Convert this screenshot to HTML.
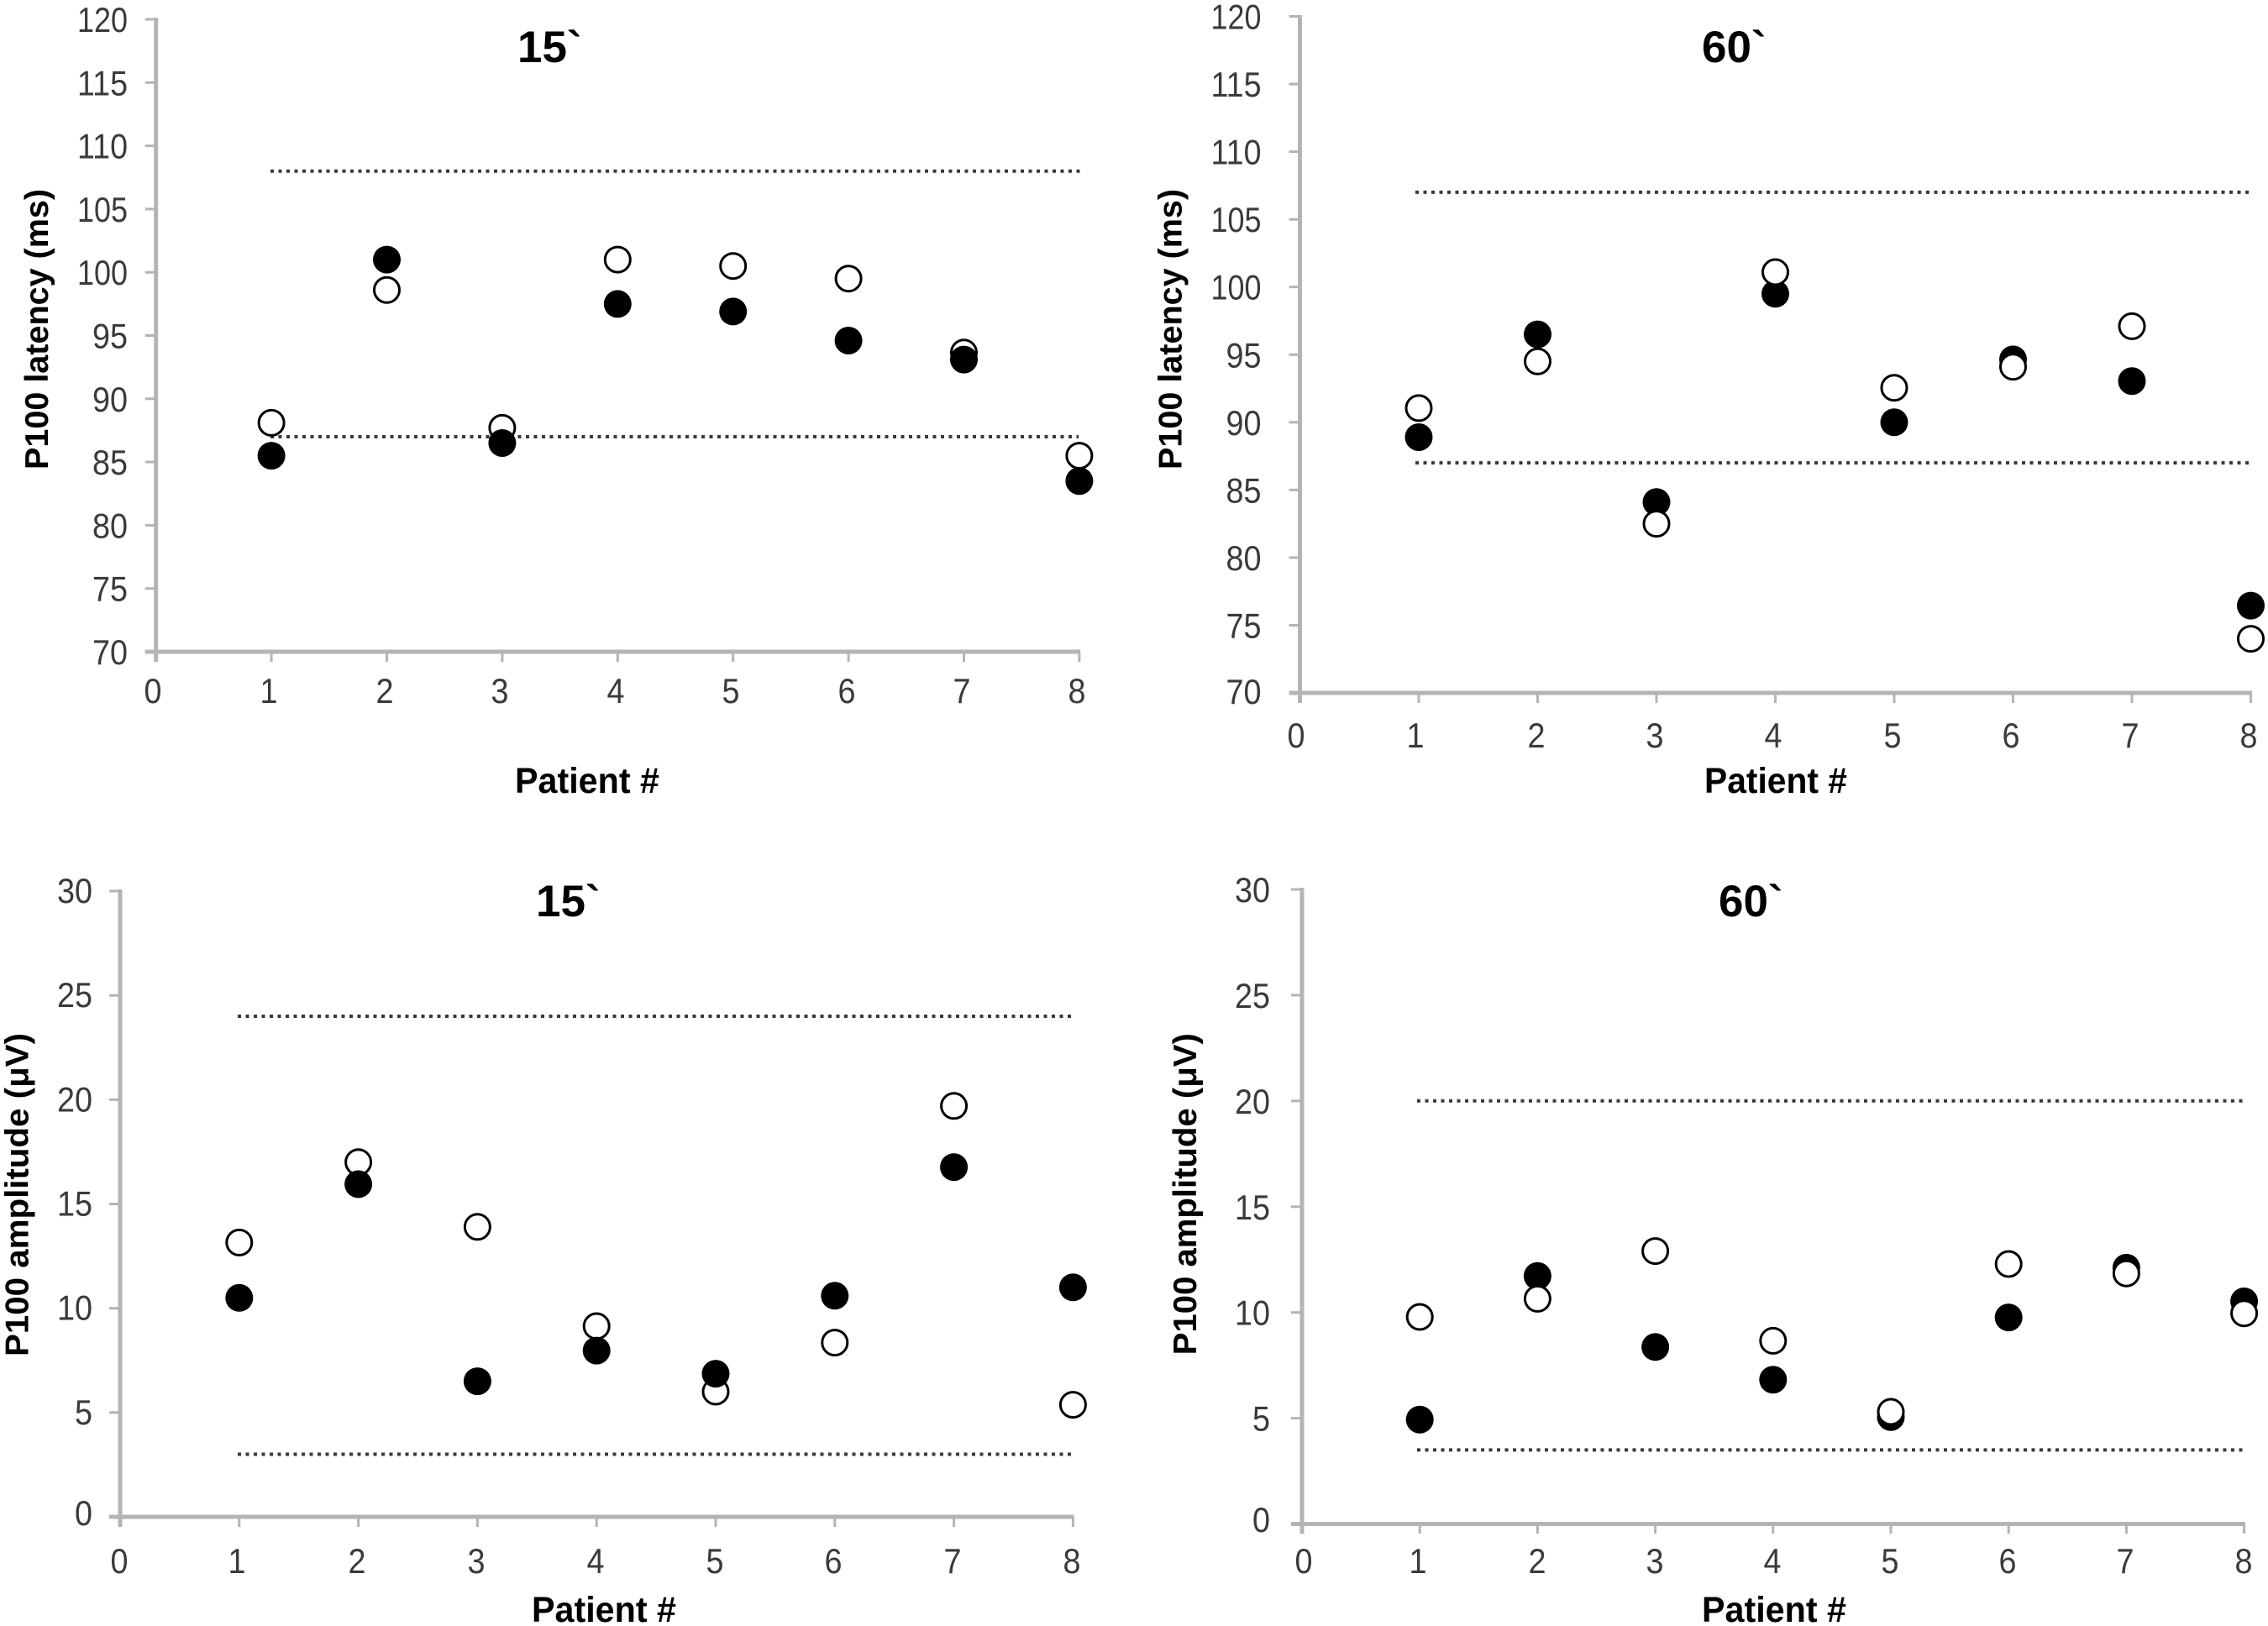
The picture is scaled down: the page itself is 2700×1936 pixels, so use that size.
<!DOCTYPE html>
<html>
<head>
<meta charset="utf-8">
<style>
  html, body { margin:0; padding:0; background:#fff; }
  svg { display:block; }
  .tk { font-family:"Liberation Sans", sans-serif; font-size:42px; fill:#3a3a3a; }
  .ax { font-family:"Liberation Sans", sans-serif; font-size:39px; font-weight:bold; fill:#000; }
  .pt { font-family:"Liberation Sans", sans-serif; font-size:43px; font-weight:bold; fill:#000; }
  .ti { font-family:"Liberation Sans", sans-serif; font-size:53px; font-weight:bold; fill:#000; }
</style>
</head>
<body>
<svg width="2700" height="1936" viewBox="0 0 2700 1936" xmlns="http://www.w3.org/2000/svg">
<rect width="2700" height="1936" fill="#fff"/>

<!-- ================= TOP LEFT ================= -->
<g stroke="#b4b4b4" fill="none">
  <line x1="185.7" y1="21" x2="185.7" y2="788" stroke-width="5"/>
  <line x1="172.7" y1="776" x2="1286" y2="776" stroke-width="5"/>
  <g stroke-width="3">
    <line x1="172.7" y1="23" x2="185.7" y2="23"/>
    <line x1="172.7" y1="98.3" x2="185.7" y2="98.3"/>
    <line x1="172.7" y1="173.6" x2="185.7" y2="173.6"/>
    <line x1="172.7" y1="248.9" x2="185.7" y2="248.9"/>
    <line x1="172.7" y1="324.2" x2="185.7" y2="324.2"/>
    <line x1="172.7" y1="399.5" x2="185.7" y2="399.5"/>
    <line x1="172.7" y1="474.8" x2="185.7" y2="474.8"/>
    <line x1="172.7" y1="550.1" x2="185.7" y2="550.1"/>
    <line x1="172.7" y1="625.4" x2="185.7" y2="625.4"/>
    <line x1="172.7" y1="700.7" x2="185.7" y2="700.7"/>
    <line x1="323.1" y1="776" x2="323.1" y2="788"/>
    <line x1="460.5" y1="776" x2="460.5" y2="788"/>
    <line x1="597.9" y1="776" x2="597.9" y2="788"/>
    <line x1="735.3" y1="776" x2="735.3" y2="788"/>
    <line x1="872.7" y1="776" x2="872.7" y2="788"/>
    <line x1="1010.1" y1="776" x2="1010.1" y2="788"/>
    <line x1="1147.5" y1="776" x2="1147.5" y2="788"/>
    <line x1="1284.9" y1="776" x2="1284.9" y2="788"/>
  </g>
</g>
<g class="tk" text-anchor="end">
  <text x="152" y="38" textLength="60" lengthAdjust="spacingAndGlyphs">120</text>
  <text x="152" y="113.3" textLength="60" lengthAdjust="spacingAndGlyphs">115</text>
  <text x="152" y="188.6" textLength="60" lengthAdjust="spacingAndGlyphs">110</text>
  <text x="152" y="263.9" textLength="60" lengthAdjust="spacingAndGlyphs">105</text>
  <text x="152" y="339.2" textLength="60" lengthAdjust="spacingAndGlyphs">100</text>
  <text x="152" y="414.5" textLength="42" lengthAdjust="spacingAndGlyphs">95</text>
  <text x="152" y="489.8" textLength="42" lengthAdjust="spacingAndGlyphs">90</text>
  <text x="152" y="565.1" textLength="42" lengthAdjust="spacingAndGlyphs">85</text>
  <text x="152" y="640.4" textLength="42" lengthAdjust="spacingAndGlyphs">80</text>
  <text x="152" y="715.7" textLength="42" lengthAdjust="spacingAndGlyphs">75</text>
  <text x="152" y="791" textLength="42" lengthAdjust="spacingAndGlyphs">70</text>
</g>
<g class="tk" text-anchor="middle">
  <text x="182" y="837" textLength="21" lengthAdjust="spacingAndGlyphs">0</text>
  <text x="320" y="837" textLength="21" lengthAdjust="spacingAndGlyphs">1</text>
  <text x="458" y="837" textLength="21" lengthAdjust="spacingAndGlyphs">2</text>
  <text x="595" y="837" textLength="21" lengthAdjust="spacingAndGlyphs">3</text>
  <text x="733" y="837" textLength="21" lengthAdjust="spacingAndGlyphs">4</text>
  <text x="870" y="837" textLength="21" lengthAdjust="spacingAndGlyphs">5</text>
  <text x="1008" y="837" textLength="21" lengthAdjust="spacingAndGlyphs">6</text>
  <text x="1145" y="837" textLength="21" lengthAdjust="spacingAndGlyphs">7</text>
  <text x="1282" y="837" textLength="21" lengthAdjust="spacingAndGlyphs">8</text>
</g>
<g stroke="#3a3a3a" stroke-width="4" stroke-dasharray="4 5.5">
  <line x1="322" y1="203.7" x2="1287" y2="203.7"/>
  <line x1="322" y1="520" x2="1284" y2="520"/>
</g>
<g fill="#fff" stroke="#000" stroke-width="3">
  <circle cx="323.1" cy="503.4" r="15"/>
  <circle cx="460.5" cy="345.3" r="15"/>
  <circle cx="597.9" cy="509.4" r="15"/>
  <circle cx="735.3" cy="309.1" r="15"/>
  <circle cx="872.7" cy="316.7" r="15"/>
  <circle cx="1010.1" cy="331.7" r="15"/>
  <circle cx="1147.5" cy="419.8" r="15"/>
  <circle cx="1284.9" cy="542.6" r="15"/>
</g>
<g fill="#000">
  <circle cx="323.1" cy="542.6" r="16.5"/>
  <circle cx="460.5" cy="309.1" r="16.5"/>
  <circle cx="597.9" cy="527.5" r="16.5"/>
  <circle cx="735.3" cy="361.9" r="16.5"/>
  <circle cx="872.7" cy="370.9" r="16.5"/>
  <circle cx="1010.1" cy="405.5" r="16.5"/>
  <circle cx="1147.5" cy="428.1" r="16.5"/>
  <circle cx="1284.9" cy="572.7" r="16.5"/>
</g>
<text class="ti" x="616" y="74">15`</text>
<text class="ax" transform="translate(57,392) rotate(-90)" text-anchor="middle" textLength="334" lengthAdjust="spacingAndGlyphs">P100 latency (ms)</text>
<text class="pt" x="699" y="944" text-anchor="middle" textLength="172" lengthAdjust="spacingAndGlyphs">Patient #</text>

<!-- ================= TOP RIGHT ================= -->
<g stroke="#b4b4b4" fill="none">
  <line x1="1547.5" y1="18" x2="1547.5" y2="837" stroke-width="5"/>
  <line x1="1534.5" y1="825" x2="1681" y2="825" stroke-width="5"/>
  <line x1="1534.5" y1="825" x2="2681" y2="825" stroke-width="5"/>
  <g stroke-width="3">
    <line x1="1534.5" y1="19.5" x2="1547.5" y2="19.5"/>
    <line x1="1534.5" y1="100.1" x2="1547.5" y2="100.1"/>
    <line x1="1534.5" y1="180.6" x2="1547.5" y2="180.6"/>
    <line x1="1534.5" y1="261.2" x2="1547.5" y2="261.2"/>
    <line x1="1534.5" y1="341.7" x2="1547.5" y2="341.7"/>
    <line x1="1534.5" y1="422.3" x2="1547.5" y2="422.3"/>
    <line x1="1534.5" y1="502.8" x2="1547.5" y2="502.8"/>
    <line x1="1534.5" y1="583.4" x2="1547.5" y2="583.4"/>
    <line x1="1534.5" y1="663.9" x2="1547.5" y2="663.9"/>
    <line x1="1534.5" y1="744.5" x2="1547.5" y2="744.5"/>
    <line x1="1689" y1="825" x2="1689" y2="837"/>
    <line x1="1830.5" y1="825" x2="1830.5" y2="837"/>
    <line x1="1972" y1="825" x2="1972" y2="837"/>
    <line x1="2113.5" y1="825" x2="2113.5" y2="837"/>
    <line x1="2255" y1="825" x2="2255" y2="837"/>
    <line x1="2396.5" y1="825" x2="2396.5" y2="837"/>
    <line x1="2538" y1="825" x2="2538" y2="837"/>
    <line x1="2679.5" y1="825" x2="2679.5" y2="837"/>
  </g>
</g>
<g class="tk" text-anchor="end">
  <text x="1501.5" y="34.5" textLength="60" lengthAdjust="spacingAndGlyphs">120</text>
  <text x="1501.5" y="115.1" textLength="60" lengthAdjust="spacingAndGlyphs">115</text>
  <text x="1501.5" y="195.6" textLength="60" lengthAdjust="spacingAndGlyphs">110</text>
  <text x="1501.5" y="276.2" textLength="60" lengthAdjust="spacingAndGlyphs">105</text>
  <text x="1501.5" y="356.7" textLength="60" lengthAdjust="spacingAndGlyphs">100</text>
  <text x="1501.5" y="437.3" textLength="42" lengthAdjust="spacingAndGlyphs">95</text>
  <text x="1501.5" y="517.8" textLength="42" lengthAdjust="spacingAndGlyphs">90</text>
  <text x="1501.5" y="598.4" textLength="42" lengthAdjust="spacingAndGlyphs">85</text>
  <text x="1501.5" y="678.9" textLength="42" lengthAdjust="spacingAndGlyphs">80</text>
  <text x="1501.5" y="759.5" textLength="42" lengthAdjust="spacingAndGlyphs">75</text>
  <text x="1501.5" y="838" textLength="42" lengthAdjust="spacingAndGlyphs">70</text>
</g>
<g class="tk" text-anchor="middle">
  <text x="1543" y="890" textLength="21" lengthAdjust="spacingAndGlyphs">0</text>
  <text x="1685" y="890" textLength="21" lengthAdjust="spacingAndGlyphs">1</text>
  <text x="1829" y="890" textLength="21" lengthAdjust="spacingAndGlyphs">2</text>
  <text x="1970" y="890" textLength="21" lengthAdjust="spacingAndGlyphs">3</text>
  <text x="2111" y="890" textLength="21" lengthAdjust="spacingAndGlyphs">4</text>
  <text x="2253" y="890" textLength="21" lengthAdjust="spacingAndGlyphs">5</text>
  <text x="2394" y="890" textLength="21" lengthAdjust="spacingAndGlyphs">6</text>
  <text x="2536" y="890" textLength="21" lengthAdjust="spacingAndGlyphs">7</text>
  <text x="2677" y="890" textLength="21" lengthAdjust="spacingAndGlyphs">8</text>
</g>
<g stroke="#3a3a3a" stroke-width="4" stroke-dasharray="4 5.5">
  <line x1="1685" y1="228.9" x2="2680" y2="228.9"/>
  <line x1="1685" y1="551.1" x2="2680" y2="551.1"/>
</g>
<g fill="#000">
  <circle cx="1689" cy="520.5" r="16.5"/>
  <circle cx="1830.5" cy="398.1" r="16.5"/>
  <circle cx="1972" cy="597.8" r="16.5"/>
  <circle cx="2113.5" cy="349.8" r="16.5"/>
  <circle cx="2255" cy="502.8" r="16.5"/>
  <circle cx="2396.5" cy="427.9" r="16.5"/>
  <circle cx="2538" cy="453.7" r="16.5"/>
  <circle cx="2679.5" cy="721.1" r="16.5"/>
</g>
<g fill="#fff" stroke="#000" stroke-width="3">
  <circle cx="1689" cy="485.9" r="15"/>
  <circle cx="1830.5" cy="430.3" r="15"/>
  <circle cx="1972" cy="623.6" r="15"/>
  <circle cx="2113.5" cy="324" r="15"/>
  <circle cx="2255" cy="461.7" r="15"/>
  <circle cx="2396.5" cy="436.7" r="15"/>
  <circle cx="2538" cy="388.4" r="15"/>
  <circle cx="2679.5" cy="760.6" r="15"/>
</g>
<text class="ti" x="2026" y="74">60`</text>
<text class="ax" transform="translate(1406.5,392) rotate(-90)" text-anchor="middle" textLength="334" lengthAdjust="spacingAndGlyphs">P100 latency (ms)</text>
<text class="pt" x="2114" y="944" text-anchor="middle" textLength="170" lengthAdjust="spacingAndGlyphs">Patient #</text>

<!-- ================= BOTTOM LEFT ================= -->
<g stroke="#b4b4b4" fill="none">
  <line x1="143" y1="1059" x2="143" y2="1818" stroke-width="5"/>
  <line x1="130" y1="1806" x2="1278.5" y2="1806" stroke-width="5"/>
  <g stroke-width="3">
    <line x1="130" y1="1061" x2="143" y2="1061"/>
    <line x1="130" y1="1185.2" x2="143" y2="1185.2"/>
    <line x1="130" y1="1309.3" x2="143" y2="1309.3"/>
    <line x1="130" y1="1433.5" x2="143" y2="1433.5"/>
    <line x1="130" y1="1557.7" x2="143" y2="1557.7"/>
    <line x1="130" y1="1681.8" x2="143" y2="1681.8"/>
    <line x1="284.8" y1="1806" x2="284.8" y2="1818"/>
    <line x1="426.6" y1="1806" x2="426.6" y2="1818"/>
    <line x1="568.4" y1="1806" x2="568.4" y2="1818"/>
    <line x1="710.2" y1="1806" x2="710.2" y2="1818"/>
    <line x1="852" y1="1806" x2="852" y2="1818"/>
    <line x1="993.8" y1="1806" x2="993.8" y2="1818"/>
    <line x1="1135.6" y1="1806" x2="1135.6" y2="1818"/>
    <line x1="1277.4" y1="1806" x2="1277.4" y2="1818"/>
  </g>
</g>
<g class="tk" text-anchor="end">
  <text x="110" y="1075" textLength="42" lengthAdjust="spacingAndGlyphs">30</text>
  <text x="110" y="1199.2" textLength="42" lengthAdjust="spacingAndGlyphs">25</text>
  <text x="110" y="1323.3" textLength="42" lengthAdjust="spacingAndGlyphs">20</text>
  <text x="110" y="1447.5" textLength="42" lengthAdjust="spacingAndGlyphs">15</text>
  <text x="110" y="1571.7" textLength="42" lengthAdjust="spacingAndGlyphs">10</text>
  <text x="110" y="1695.8" textLength="21" lengthAdjust="spacingAndGlyphs">5</text>
  <text x="110" y="1816" textLength="21" lengthAdjust="spacingAndGlyphs">0</text>
</g>
<g class="tk" text-anchor="middle">
  <text x="142" y="1873" textLength="21" lengthAdjust="spacingAndGlyphs">0</text>
  <text x="282" y="1873" textLength="21" lengthAdjust="spacingAndGlyphs">1</text>
  <text x="425" y="1873" textLength="21" lengthAdjust="spacingAndGlyphs">2</text>
  <text x="567" y="1873" textLength="21" lengthAdjust="spacingAndGlyphs">3</text>
  <text x="709" y="1873" textLength="21" lengthAdjust="spacingAndGlyphs">4</text>
  <text x="851" y="1873" textLength="21" lengthAdjust="spacingAndGlyphs">5</text>
  <text x="992" y="1873" textLength="21" lengthAdjust="spacingAndGlyphs">6</text>
  <text x="1134" y="1873" textLength="21" lengthAdjust="spacingAndGlyphs">7</text>
  <text x="1276" y="1873" textLength="21" lengthAdjust="spacingAndGlyphs">8</text>
</g>
<g stroke="#3a3a3a" stroke-width="4" stroke-dasharray="4 5.5">
  <line x1="283" y1="1210" x2="1279" y2="1210"/>
  <line x1="283" y1="1731.5" x2="1279" y2="1731.5"/>
</g>
<g fill="#fff" stroke="#000" stroke-width="3">
  <circle cx="284.8" cy="1479.4" r="15"/>
  <circle cx="426.6" cy="1383.8" r="15"/>
  <circle cx="568.4" cy="1460.8" r="15"/>
  <circle cx="710.2" cy="1579" r="15"/>
  <circle cx="852" cy="1657" r="15"/>
  <circle cx="993.8" cy="1598.6" r="15"/>
  <circle cx="1135.6" cy="1316.8" r="15"/>
  <circle cx="1277.4" cy="1672.6" r="15"/>
</g>
<g fill="#000">
  <circle cx="284.8" cy="1545.3" r="16.5"/>
  <circle cx="426.6" cy="1409.9" r="16.5"/>
  <circle cx="568.4" cy="1644.6" r="16.5"/>
  <circle cx="710.2" cy="1608.1" r="16.5"/>
  <circle cx="852" cy="1635.6" r="16.5"/>
  <circle cx="993.8" cy="1542.8" r="16.5"/>
  <circle cx="1135.6" cy="1389.6" r="16.5"/>
  <circle cx="1277.4" cy="1532.8" r="16.5"/>
</g>
<text class="ti" x="638" y="1091">15`</text>
<text class="ax" transform="translate(33.5,1422.5) rotate(-90)" text-anchor="middle" textLength="385" lengthAdjust="spacingAndGlyphs">P100 amplitude (μV)</text>
<text class="pt" x="719" y="1931" text-anchor="middle" textLength="172" lengthAdjust="spacingAndGlyphs">Patient #</text>

<!-- ================= BOTTOM RIGHT ================= -->
<g stroke="#b4b4b4" fill="none">
  <line x1="1550" y1="1057" x2="1550" y2="1826" stroke-width="5"/>
  <line x1="1537" y1="1814.5" x2="2673" y2="1814.5" stroke-width="5"/>
  <g stroke-width="3">
    <line x1="1537" y1="1059" x2="1550" y2="1059"/>
    <line x1="1537" y1="1184.9" x2="1550" y2="1184.9"/>
    <line x1="1537" y1="1310.8" x2="1550" y2="1310.8"/>
    <line x1="1537" y1="1436.8" x2="1550" y2="1436.8"/>
    <line x1="1537" y1="1562.7" x2="1550" y2="1562.7"/>
    <line x1="1537" y1="1688.6" x2="1550" y2="1688.6"/>
    <line x1="1690.2" y1="1814.5" x2="1690.2" y2="1826"/>
    <line x1="1830.4" y1="1814.5" x2="1830.4" y2="1826"/>
    <line x1="1970.6" y1="1814.5" x2="1970.6" y2="1826"/>
    <line x1="2110.8" y1="1814.5" x2="2110.8" y2="1826"/>
    <line x1="2251" y1="1814.5" x2="2251" y2="1826"/>
    <line x1="2391.2" y1="1814.5" x2="2391.2" y2="1826"/>
    <line x1="2531.4" y1="1814.5" x2="2531.4" y2="1826"/>
    <line x1="2671.6" y1="1814.5" x2="2671.6" y2="1826"/>
  </g>
</g>
<g class="tk" text-anchor="end">
  <text x="1512" y="1074" textLength="42" lengthAdjust="spacingAndGlyphs">30</text>
  <text x="1512" y="1199.9" textLength="42" lengthAdjust="spacingAndGlyphs">25</text>
  <text x="1512" y="1325.8" textLength="42" lengthAdjust="spacingAndGlyphs">20</text>
  <text x="1512" y="1451.8" textLength="42" lengthAdjust="spacingAndGlyphs">15</text>
  <text x="1512" y="1577.7" textLength="42" lengthAdjust="spacingAndGlyphs">10</text>
  <text x="1512" y="1703.6" textLength="21" lengthAdjust="spacingAndGlyphs">5</text>
  <text x="1512" y="1824" textLength="21" lengthAdjust="spacingAndGlyphs">0</text>
</g>
<g class="tk" text-anchor="middle">
  <text x="1552" y="1873" textLength="21" lengthAdjust="spacingAndGlyphs">0</text>
  <text x="1688" y="1873" textLength="21" lengthAdjust="spacingAndGlyphs">1</text>
  <text x="1830" y="1873" textLength="21" lengthAdjust="spacingAndGlyphs">2</text>
  <text x="1970" y="1873" textLength="21" lengthAdjust="spacingAndGlyphs">3</text>
  <text x="2110" y="1873" textLength="21" lengthAdjust="spacingAndGlyphs">4</text>
  <text x="2250" y="1873" textLength="21" lengthAdjust="spacingAndGlyphs">5</text>
  <text x="2390" y="1873" textLength="21" lengthAdjust="spacingAndGlyphs">6</text>
  <text x="2530" y="1873" textLength="21" lengthAdjust="spacingAndGlyphs">7</text>
  <text x="2671" y="1873" textLength="21" lengthAdjust="spacingAndGlyphs">8</text>
</g>
<g stroke="#3a3a3a" stroke-width="4" stroke-dasharray="4 5.5">
  <line x1="1687" y1="1310.8" x2="2673" y2="1310.8"/>
  <line x1="1687" y1="1726.4" x2="2673" y2="1726.4"/>
</g>
<g fill="#000">
  <circle cx="1690.2" cy="1690.2" r="16.5"/>
  <circle cx="1830.4" cy="1519.3" r="16.5"/>
  <circle cx="1970.6" cy="1603.8" r="16.5"/>
  <circle cx="2110.8" cy="1642.7" r="16.5"/>
  <circle cx="2251" cy="1687.2" r="16.5"/>
  <circle cx="2391.2" cy="1568.6" r="16.5"/>
  <circle cx="2531.4" cy="1509.4" r="16.5"/>
  <circle cx="2671.6" cy="1549.5" r="16.5"/>
</g>
<g fill="#fff" stroke="#000" stroke-width="3">
  <circle cx="1690.2" cy="1568" r="15"/>
  <circle cx="1830.4" cy="1546.4" r="15"/>
  <circle cx="1970.6" cy="1489.6" r="15"/>
  <circle cx="2110.8" cy="1596.4" r="15"/>
  <circle cx="2251" cy="1681" r="15"/>
  <circle cx="2391.2" cy="1505" r="15"/>
  <circle cx="2531.4" cy="1516.2" r="15"/>
  <circle cx="2671.6" cy="1563.7" r="15"/>
</g>
<text class="ti" x="2046" y="1091">60`</text>
<text class="ax" transform="translate(1424,1421.7) rotate(-90)" text-anchor="middle" textLength="383" lengthAdjust="spacingAndGlyphs">P100 amplitude (μV)</text>
<text class="pt" x="2112" y="1931" text-anchor="middle" textLength="172" lengthAdjust="spacingAndGlyphs">Patient #</text>

</svg>
</body>
</html>
